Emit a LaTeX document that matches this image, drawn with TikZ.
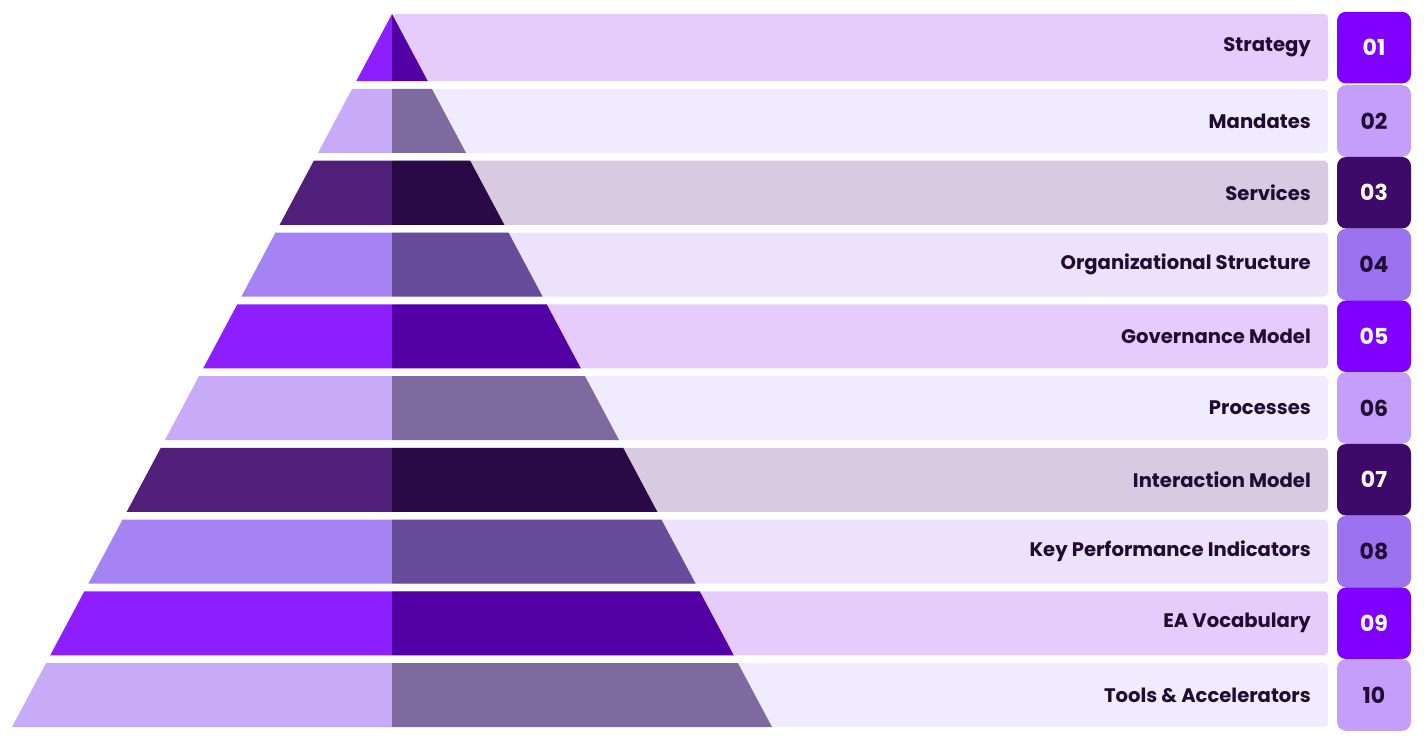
\documentclass[tikz,border=0pt]{standalone}
\usepackage{fontspec}
\setmainfont{Poppins}
\definecolor{txt}{HTML}{1F0B33}
\definecolor{Al}{HTML}{8C1EFF}\definecolor{Ar}{HTML}{5200A6}\definecolor{Ab}{HTML}{E6CCFC}\definecolor{Ak}{HTML}{7F00FF}
\definecolor{Bl}{HTML}{C7ABF8}\definecolor{Br}{HTML}{7E6A9F}\definecolor{Bb}{HTML}{F1ECFD}\definecolor{Bk}{HTML}{C49EFA}
\definecolor{Cl}{HTML}{4F1F7A}\definecolor{Cr}{HTML}{2A0947}\definecolor{Cb}{HTML}{D9CAE2}\definecolor{Ck}{HTML}{3D0A69}
\definecolor{Dl}{HTML}{A583F3}\definecolor{Dr}{HTML}{674C9C}\definecolor{Db}{HTML}{EDE2FC}\definecolor{Dk}{HTML}{9C72F1}
\tikzset{
  barbox/.style={draw=none,rounded corners=4pt},
  badgebox/.style={draw=none,rounded corners=9pt},
  lbl/.style={anchor=east,text=txt,font=\fontsize{19.6}{23}\selectfont\bfseries,inner sep=0pt},
  num/.style={anchor=center,font=\fontsize{22}{26}\selectfont\bfseries,inner sep=0pt},
}
\begin{document}
\begin{tikzpicture}[x=1pt,y=-1pt]
\useasboundingbox (0,0) rectangle (1428,741);
\def\k{0.53296}
\foreach \i/\s/\name/\tc in {1/A/Strategy/white,2/B/Mandates/txt,3/C/Services/white,4/D/Organizational Structure/txt,5/A/Governance Model/white,6/B/Processes/txt,7/C/Interaction Model/white,8/D/Key Performance Indicators/txt,9/A/EA Vocabulary/white,10/B/Tools \& Accelerators/txt}{
  \pgfmathsetmacro\t{\i==1 ? 14 : 89+71.75*(\i-2)}
  \pgfmathsetmacro\b{81.25+71.75*(\i-1)}
  \pgfmathsetmacro\c{(\t+\b)/2}
  \pgfmathsetmacro\lt{392-\k*(\t-14)}
  \pgfmathsetmacro\lb{392-\k*(\b-14)}
  \pgfmathsetmacro\rt{392+\k*(\t-14)}
  \pgfmathsetmacro\rb{392+\k*(\b-14)}
  \fill[\s b,barbox] (392,\t) rectangle (1328,\b);
  \fill[\s l] (\lt,\t) -- (392,\t) -- (392,\b) -- (\lb,\b) -- cycle;
  \fill[\s r] (392,\t) -- (\rt,\t) -- (\rb,\b) -- (392,\b) -- cycle;
  \fill[\s k,badgebox] (1337,\c-35.8) rectangle (1411,\c+35.8);
  \node[lbl] (l\i) at (1311,\c) {\name};
  \pgfmathtruncatemacro\ii{\i}
  \node[num,text=\tc] (n\i) at (1374,\c) {\ifnum\ii<10 0\fi\ii};
}
\end{tikzpicture}
\end{document}
